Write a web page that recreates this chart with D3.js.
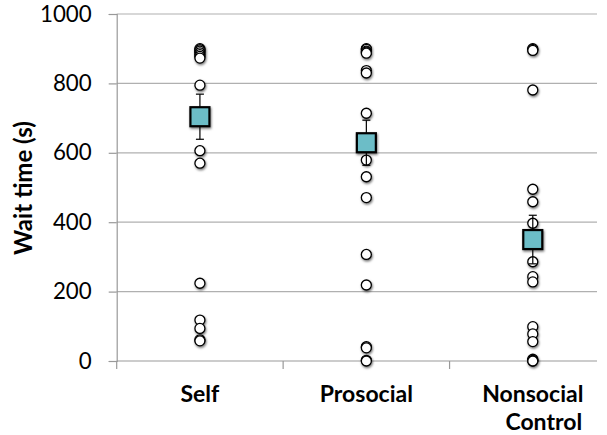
<!DOCTYPE html>
<html><head><meta charset="utf-8">
<script src="https://cdn.jsdelivr.net/npm/d3@7"></script>
<style>body{margin:0;background:#fff}svg{display:block}</style>
</head><body>
<script>
const categories = ["Self", "Prosocial", "Nonsocial Control"];
const means = [704, 629, 350];
const errors = [65, 65, 70];
const selfPoints = [900, 897, 893, 888, 883, 878, 873, 795, 606, 570, 224, 118, 94, 61, 58];
const prosocialPoints = [900, 898, 893, 890, 887, 837, 830, 714, 579, 531, 471, 307, 219, 41, 38, 2, 0];
const nonsocialPoints = [900, 898, 895, 781, 495, 459, 397, 286, 243, 228, 99, 78, 56, 5, 2, 0, 0];
const yTicks = [0, 200, 400, 600, 800, 1000];

const W = 607, H = 435;
const svg = d3.select("body").append("svg").attr("width", W).attr("height", H);
const defs = svg.append("defs");
const f = defs.append("filter").attr("id", "sh").attr("x", "-50%").attr("y", "-50%").attr("width", "200%").attr("height", "200%");
f.append("feDropShadow").attr("dx", 0.8).attr("dy", 1.5).attr("stdDeviation", 1.1).attr("flood-color", "#000").attr("flood-opacity", 0.55);

const mLeft = 116.7, mRight = 616, mTop = 14, mBottom = 361, gridRight = 597;
const x = d3.scaleBand().domain(categories).range([mLeft, mRight]).paddingInner(0).paddingOuter(0);
const y = d3.scaleLinear().domain([0, 1000]).range([mBottom, mTop]);
const FONT = "Lato, 'Open Sans', sans-serif";

// gridlines
svg.append("g").selectAll("line").data(yTicks.filter(d => d > 0)).join("line")
  .attr("x1", mLeft).attr("x2", gridRight).attr("y1", d => y(d)).attr("y2", d => y(d))
  .attr("stroke", "#b0b0b0").attr("stroke-width", 1.2);

// y axis
const ya = svg.append("g").attr("transform", `translate(${mLeft},0)`)
  .call(d3.axisLeft(y).tickValues(yTicks).tickSize(8).tickPadding(17).tickFormat(d3.format("d")));
ya.select(".domain").attr("stroke", "#999").attr("stroke-width", 1.2);
ya.selectAll(".tick line").attr("stroke", "#999").attr("stroke-width", 1.2);
ya.selectAll(".tick text").attr("font-family", FONT).attr("font-size", 22.3).attr("fill", "#000");

// x axis
const bounds = [mLeft, mLeft + x.bandwidth(), mLeft + 2 * x.bandwidth()];
svg.append("line").attr("x1", mLeft).attr("x2", gridRight).attr("y1", mBottom).attr("y2", mBottom)
  .attr("stroke", "#999").attr("stroke-width", 1.2);
svg.append("g").selectAll("line").data(bounds).join("line")
  .attr("x1", d => d).attr("x2", d => d).attr("y1", mBottom).attr("y2", mBottom + 8)
  .attr("stroke", "#999").attr("stroke-width", 1.2);

// category labels
const labG = svg.append("g").attr("font-family", FONT).attr("font-weight", "bold").attr("font-size", 23).attr("fill", "#000").attr("text-anchor", "middle");
categories.forEach((c, i) => {
  const cx = x(c) + x.bandwidth() / 2;
  if (c === "Nonsocial Control") {
    labG.append("text").attr("x", cx).attr("y", 402).text("Nonsocial");
    labG.append("text").attr("x", cx + 11).attr("y", 430).text("Control");
  } else {
    labG.append("text").attr("x", cx).attr("y", 402).text(c);
  }
});

// y title
svg.append("text").attr("transform", "translate(32,188) rotate(-90)")
  .attr("text-anchor", "middle").attr("font-family", FONT)
  .attr("font-weight", "bold").attr("font-size", 24).attr("fill", "#000").text("Wait time (s)");

// points
const series = [selfPoints, prosocialPoints, nonsocialPoints];
const pts = [];
series.forEach((arr, i) => arr.forEach(v => pts.push({ c: categories[i], v })));
svg.append("g").attr("filter", "url(#sh)").selectAll("circle").data(pts).join("circle")
  .attr("cx", d => x(d.c) + x.bandwidth() / 2).attr("cy", d => y(d.v)).attr("r", 5)
  .attr("fill", "#fff").attr("stroke", "#000").attr("stroke-width", 1.3);

// error bars
const eb = svg.append("g").attr("stroke", "#000").attr("stroke-width", 1.2);
categories.forEach((c, i) => {
  const cx = x(c) + x.bandwidth() / 2;
  const hi = y(means[i] + errors[i]), lo = y(means[i] - errors[i]);
  eb.append("line").attr("x1", cx).attr("x2", cx).attr("y1", hi).attr("y2", lo);
  eb.append("line").attr("x1", cx - 4).attr("x2", cx + 4).attr("y1", hi).attr("y2", hi);
  eb.append("line").attr("x1", cx - 4).attr("x2", cx + 4).attr("y1", lo).attr("y2", lo);
});

// mean squares
svg.append("g").attr("filter", "url(#sh)").selectAll("rect").data(categories).join("rect")
  .attr("x", c => x(c) + x.bandwidth() / 2 - 9.5).attr("y", (c, i) => y(means[i]) - 9.5)
  .attr("width", 19).attr("height", 19)
  .attr("fill", "#6cbdc7").attr("stroke", "#000").attr("stroke-width", 2.2);
</script>
</body></html>
